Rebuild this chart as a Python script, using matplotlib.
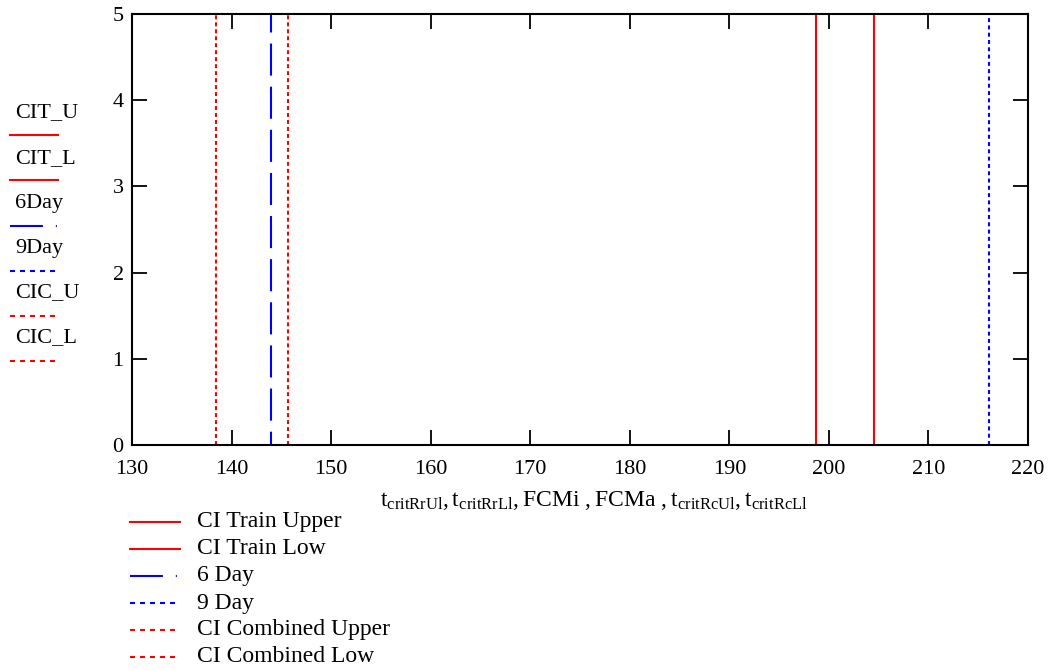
import matplotlib
matplotlib.use("Agg")
import matplotlib.pyplot as plt
from matplotlib.lines import Line2D

plt.rcParams['font.family'] = ['Liberation Serif', 'DejaVu Serif']
plt.rcParams['mathtext.fontset'] = 'custom'
plt.rcParams['mathtext.rm'] = 'Liberation Serif'
plt.rcParams['mathtext.it'] = 'Liberation Serif'

# series data (vertical markers)
short_names = ['CIT_U', 'CIT_L', '6Day', '9Day', 'CIC_U', 'CIC_L']
long_names = ['CI Train Upper', 'CI Train Low', '6 Day', '9 Day',
              'CI Combined Upper', 'CI Combined Low']
x_vals = [198.7, 204.5, 144.0, 216.1, 145.7, 138.4]
colors = ['red', 'red', 'blue', 'blue', 'red', 'red']
styles = ['-', '-', (9, (15.4, 5.3)), (0, (1.9, 1.6)), (0, (1.9, 1.45)), (0, (1.9, 1.45))]
# legend samples (6 Day shows its dash-dot pattern there)
leg_styles = ['-', '-', (0, (15.8, 6.2, 0.5, 6.2)), (0, (2.4, 2.4)), (0, (2.4, 2.4)), (0, (2.4, 2.4))]

x_ticks = list(range(130, 221, 10))
y_ticks = [0, 1, 2, 3, 4, 5]

fig = plt.figure(figsize=(10.56, 6.71), dpi=100)
ax = fig.add_axes([0.125, 0.3368, 0.8485, 0.6422])

for x, c, ls in zip(x_vals, colors, styles):
    ax.plot([x, x], [0, 5], color=c, linestyle=ls, lw=1.5)

ax.set_xlim(130, 220)
ax.set_ylim(0, 5)
ax.set_xticks(x_ticks)
ax.set_yticks(y_ticks)
ax.tick_params(direction='in', length=11, width=1.3, top=True, right=True,
               labelsize=16, colors='black')
ax.tick_params(axis='x', pad=11)
ax.tick_params(axis='y', pad=6)
for s in ax.spines.values():
    s.set_linewidth(1.5)

W, H = 1056.0, 671.0

fig.text(594 / W, 1 - 500 / H,
         r'$\mathregular{t_{critRrUl}, t_{critRrLl}, FCMi\ , FCMa\ , t_{critRcUl}, t_{critRcLl}}$',
         fontsize=17, ha='center', va='center')

# left legend: short names with sample line underneath
text_y = [113, 159, 204, 249, 293, 338]
line_y = [135, 180, 226, 271, 316, 361]
for name, c, ls, ty, ly in zip(short_names, colors, leg_styles, text_y, line_y):
    fig.text(15 / W, 1 - ty / H, name, fontsize=16, va='center', ha='left')
    fig.add_artist(Line2D([10 / W, 58 / W], [1 - ly / H, 1 - ly / H],
                          color=c, linestyle=ls, lw=1.5))

# bottom legend
leg_y = [522, 549, 576, 603, 630, 657]
for name, c, ls, y in zip(long_names, colors, leg_styles, leg_y):
    fig.add_artist(Line2D([130 / W, 180 / W], [1 - y / H, 1 - y / H],
                          color=c, linestyle=ls, lw=1.5))
    fig.text(197 / W, 1 - y / H, name, fontsize=17, va='center', ha='left')

fig.savefig('out.png', dpi=100)
